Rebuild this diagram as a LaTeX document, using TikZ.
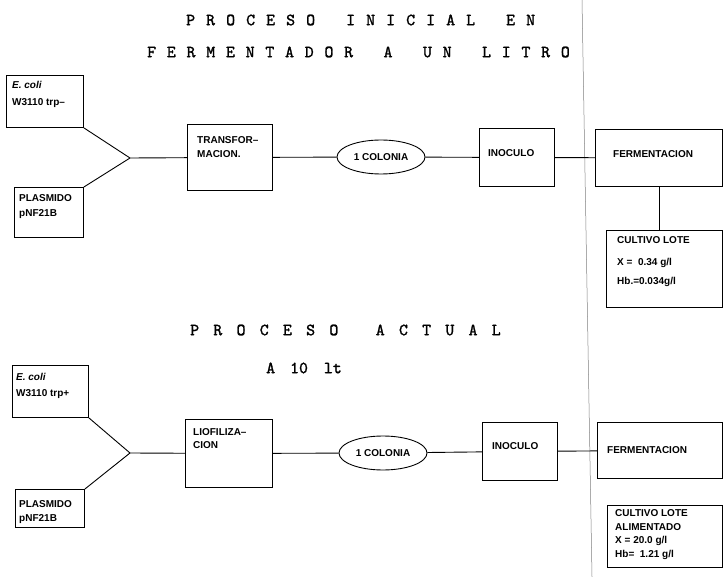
\documentclass[tikz,border=0pt]{standalone}
\usepackage{fontspec}
\usepackage{tikz}
\usetikzlibrary{shapes.geometric}
\usetikzlibrary{calc}
\setmainfont{Liberation Sans}
\newfontfamily\headfont{lmmono10-regular.otf}[FakeBold=1.5]
\makeatletter
\newcommand\spaceout[2]{\@tfor\spc@ch:=#2\do{\makebox[#1][l]{\spc@ch}}}
\makeatother

\begin{document}
\begin{tikzpicture}[x=1pt, y=-1pt,
    box/.style={draw, line width=0.9pt, inner sep=0pt, anchor=north west},
    txt/.style={font=\bfseries\fontsize{10}{13.5}\selectfont, align=left, inner sep=0pt},
    head/.style={font=\headfont\fontsize{17}{19}\selectfont, inner sep=0pt},
    link/.style={line width=0.9pt}]
    \useasboundingbox (0,0) rectangle (725,577);
    \draw[gray, line width=0.5pt](582,0)--(592,577);

    % titulos
    \node[head, anchor=west] (titleA) at (186,20) {\spaceout{20pt}{PROCESO~INICIAL~EN}};
    \node[head, anchor=west] (titleB) at (147,52) {\spaceout{19.7pt}{FERMENTADOR~A~UN~LITRO}};
    \node[head, anchor=west] (titleC) at (190,330) {\spaceout{23.2pt}{PROCESO~ACTUAL}};
    \node[head, anchor=west] (titleD) at (266,368) {A\hspace{15pt}10\hspace{16pt}lt};

    % proceso inicial
    \node[box, minimum width=77, minimum height=52] (ecoliA) at (6,75) {};
    \node[txt, anchor=north west] (ecoliAtxt) at ($(ecoliA.north west)+(6,6)$) {\textit{E. coli}\\[3.5pt] W3110 trp--};
    \node[box, minimum width=69, minimum height=50] (plasA) at (14,187) {};
    \node[txt, anchor=north west] (plasAtxt) at ($(plasA.north west)+(5,7.5)$) {PLASMIDO\\[1.5pt] pNF21B};
    \coordinate (jA) at (130,158);
    \node[box, minimum width=85, minimum height=66] (transA) at (187,124) {};
    \node[txt, anchor=north west] (transAtxt) at ($(transA.north west)+(10,12.5)$) {TRANSFOR--\\MACION.};
    \node[txt, ellipse, draw, line width=0.9pt, minimum width=88, minimum height=34] (colA) at (381,157) {1 COLONIA};
    \node[box, minimum width=75, minimum height=58] (inocA) at (479,128) {};
    \node[txt, anchor=west] (inocAtxt) at ($(inocA.west)+(9,-4)$) {INOCULO};
    \node[box, minimum width=127, minimum height=57] (fermA) at (595,129) {};
    \node[txt, anchor=west] (fermAtxt) at ($(fermA.west)+(18,-4)$) {FERMENTACION};
    \node[box, minimum width=116, minimum height=77] (cultA) at (606,230) {};
    \node[txt, anchor=north west] (cultAtxt) at ($(cultA.north west)+(11,6.5)$) {CULTIVO LOTE\\[8pt] X =~~0.34 g/l\\[6pt] Hb.=0.034g/l};

    \draw[link](ecoliA.south east)--(jA);
    \draw[link](plasA.north east)--(jA);
    \draw[link](jA)--(transA);
    \draw[link](transA)--(colA);
    \draw[link](colA)--(inocA);
    \draw[link](inocA)--(fermA);
    \draw[link](fermA.south)--(fermA.south |- cultA.north);

    % proceso actual
    \node[box, minimum width=76, minimum height=52] (ecoliB) at (12,365) {};
    \node[txt, anchor=north west] (ecoliBtxt) at ($(ecoliB.north west)+(4,8.5)$) {\textit{E. coli}\\[2.5pt] W3110 trp+};
    \node[box, minimum width=69, minimum height=38] (plasB) at (15,489) {};
    \node[txt, anchor=north west] (plasBtxt) at ($(plasB.north west)+(4,11.5)$) {PLASMIDO\\pNF21B};
    \coordinate (jB) at (130,453);
    \node[box, minimum width=87, minimum height=68] (liofB) at (185,419) {};
    \node[txt, anchor=north west] (liofBtxt) at ($(liofB.north west)+(8,9)$) {LIOFILIZA--\\CION};
    \node[txt, ellipse, draw, line width=0.9pt, minimum width=88, minimum height=34] (colB) at (383,453) {1 COLONIA};
    \node[box, minimum width=75, minimum height=58] (inocB) at (482,422) {};
    \node[txt, anchor=west] (inocBtxt) at ($(inocB.west)+(10,-5)$) {INOCULO};
    \node[box, minimum width=125, minimum height=56] (fermB) at (597,422) {};
    \node[txt, anchor=west] (fermBtxt) at ($(fermB.west)+(10,0)$) {FERMENTACION};
    \node[box, minimum width=115, minimum height=62] (cultB) at (607,505) {};
    \node[txt, anchor=north west] (cultBtxt) at ($(cultB.north west)+(8,4.5)$) {CULTIVO LOTE\\ALIMENTADO\\X = 20.0 g/l\\Hb=~~1.21 g/l};

    \draw[link](ecoliB.south east)--(jB);
    \draw[link](plasB.north east)--(jB);
    \draw[link](jB)--(liofB);
    \draw[link](liofB)--(colB);
    \draw[link](colB)--(inocB);
    \draw[link](inocB)--(fermB);
    \draw[link]($(fermB.south)+(7,0)$)--($(fermB.south)+(7,0)$ |- cultB.north);
\end{tikzpicture}
\end{document}
